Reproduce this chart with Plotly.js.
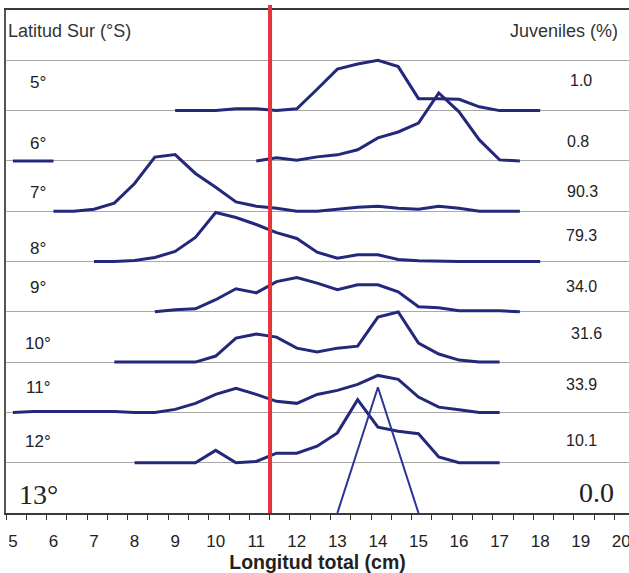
<!DOCTYPE html>
<html>
<head>
<meta charset="utf-8">
<script src="https://cdn.plot.ly/plotly-3.0.1.min.js"></script>
<style>html,body{margin:0;padding:0;background:#fff;}#chart{width:629px;height:573px;}</style>
</head>
<body>
<div id="chart"></div>
<script>
// Length bins (cm)
const longitudes = [5,5.5,6,6.5,7,7.5,8,8.5,9,9.5,10,10.5,11,11.5,12,12.5,13,13.5,14,14.5,15,15.5,16,16.5,17,17.5,18];
const N = null;
// Relative frequency per latitude (same scale for all; one band = 40)
const lat5  = [N,N,N,N,N,N,N,N, 0,0,0,1.4,1.4,0,1.4,17,33,37,40,35,9.5,9.5,9,3,0,0,0];
const lat6  = [0,0,0, N,N,N,N,N,N,N,N,N, 0,2.4,0.5,3.2,4.8,8.8,18.3,23,30,54,39,16.7,0.8,0, N];
const lat7  = [N,N, 0,0,1.6,6.4,22,43,45,30,19,7.4,4,2.4,0,0,1.6,3.2,4,2.4,1.6,4,2.4,0,0,0, N];
const lat8  = [N,N,N,N, 0,0,0.8,3.2,8,19.1,39,35,29.4,23,18.3,7.4,2.6,5.3,5.3,1.6,0.5,0,0,0,0,0,0];
const lat9  = [N,N,N,N,N,N,N, 0,1.6,2.4,9.6,18.3,15.1,24,27.3,22.8,17.5,21.5,21.5,15.9,4,3.2,0.8,0.8,0.8,0, N];
const lat10 = [N,N,N,N,N, 0,0,0,0,0,4.8,19.1,22.3,19.9,11.1,8,11.1,12.7,35.8,39.8,15.1,6.4,1.6,0,0, N,N];
const lat11 = [0,0.8,0.8,0.8,0.8,0.8,0,0,2.4,7.2,14.3,19.1,14.3,8.8,7.2,14.3,17.5,22.3,29.4,26.3,12.2,4.2,2.1,0,0, N,N];
const lat12 = [N,N,N,N,N,N, 0,0,0,0,9.8,0,1,7.6,7.6,13.1,23.7,50.1,28.2,25,23.1,4.6,0,0,0, N,N];
const lat13 = [N,N,N,N,N,N,N,N,N,N,N,N,N,N,N,N, 0,N,100,N,0, N,N,N,N,N,N];

const latLabels = ['5°','6°','7°','8°','9°','10°','11°','12°','13°'];
const juveniles = ['1.0','0.8','90.3','79.3','34.0','31.6','33.9','10.1','0.0'];
const seriesList = [lat5, lat6, lat7, lat8, lat9, lat10, lat11, lat12, lat13];
const tallaMinima = 11.34;

// ---- layout constants ----
const BAND = 40;
const baseOf = i => (8 - i) * BAND;
const latLabelY = [342.7, 294, 255, 210.7, 179, 135, 100, 57, 15];
const pctLabelY = [344, 295.4, 255.7, 221, 180.5, 143, 102, 58, 16];
const pctLabelX = [19.0, 18.93, 19.05, 19.03, 19.03, 19.14, 19.03, 19.03, 19.39];

const traces = seriesList.map((vals, i) => ({
  type: 'scatter', mode: 'lines',
  x: longitudes,
  y: vals.map(v => v === null ? null : baseOf(i) + v),
  connectgaps: i === 8,
  line: {color: i === 8 ? '#2b3596' : '#23287a', width: i === 8 ? 2 : 3},
  hoverinfo: 'skip', showlegend: false
}));

const annotations = [];
latLabels.forEach((t, i) => {
  const serif = i === 8;
  annotations.push({
    xref: 'x', yref: 'y', x: 5.63, y: latLabelY[i], text: t, showarrow: false,
    xanchor: 'center', yanchor: 'middle',
    font: serif ? {family: 'Liberation Serif, Times New Roman, serif', size: 28, color: '#222'}
                : {family: 'Liberation Sans, Arial, sans-serif', size: 17, color: '#222'}
  });
});
juveniles.forEach((t, i) => {
  const serif = i === 8;
  annotations.push({
    xref: 'x', yref: 'y', x: pctLabelX[i], y: pctLabelY[i], text: t, showarrow: false,
    xanchor: 'center', yanchor: 'middle',
    font: serif ? {family: 'Liberation Serif, Times New Roman, serif', size: 28, color: '#222'}
                : {family: 'Liberation Sans, Arial, sans-serif', size: 16, color: '#222'}
  });
});
annotations.push({xref: 'paper', yref: 'y', x: 0, y: 383.7, text: 'Latitud Sur (°S)', showarrow: false,
  xanchor: 'left', yanchor: 'middle', font: {family: 'Liberation Sans, Arial, sans-serif', size: 18, color: '#333'}});
annotations.push({xref: 'x', yref: 'y', x: 19.97, y: 383.3, text: 'Juveniles (%)', showarrow: false,
  xanchor: 'right', yanchor: 'middle', font: {family: 'Liberation Sans, Arial, sans-serif', size: 18, color: '#333'}});

const layout = {
  width: 629, height: 573,
  margin: {l: 6, r: 0, t: 10, b: 60},
  paper_bgcolor: '#fff', plot_bgcolor: '#fff',
  showlegend: false, hovermode: false,
  xaxis: {
    range: [4.83, 20.19],
    tickmode: 'array', tickvals: [5,6,7,8,9,10,11,12,13,14,15,16,17,18,19,20],
    ticks: 'outside', ticklen: 12, tickcolor: 'rgba(0,0,0,0)',
    ticklabeloverflow: 'allow',
    tickfont: {family: 'Liberation Sans, Arial, sans-serif', size: 17, color: '#222'},
    showgrid: false, zeroline: false,
    showline: true, linecolor: '#3a3a3a', linewidth: 2, mirror: true,
    minor: {tick0: 4.83, dtick: 0.5, ticks: 'outside', ticklen: 5, tickcolor: '#333', tickwidth: 1, showgrid: false},
    title: {text: '<b>Longitud total (cm)</b>', standoff: 5,
      font: {family: 'Liberation Sans, Arial, sans-serif', size: 19.5, color: '#222'}},
    fixedrange: true
  },
  yaxis: {
    range: [0, 400], tickmode: 'linear', tick0: 0, dtick: BAND,
    showticklabels: false, ticks: '',
    showgrid: true, gridcolor: '#a8a8a8', gridwidth: 1,
    zeroline: false, showline: true, linecolor: '#555', linewidth: 2, mirror: false,
    fixedrange: true
  },
  shapes: [{
    type: 'line', xref: 'x', yref: 'paper', x0: tallaMinima, x1: tallaMinima, y0: 0, y1: 1.01,
    line: {color: '#e8323c', width: 4}, layer: 'above'
  }],
  annotations: annotations
};

Plotly.newPlot('chart', traces, layout, {displayModeBar: false, staticPlot: true});
</script>
</body>
</html>
